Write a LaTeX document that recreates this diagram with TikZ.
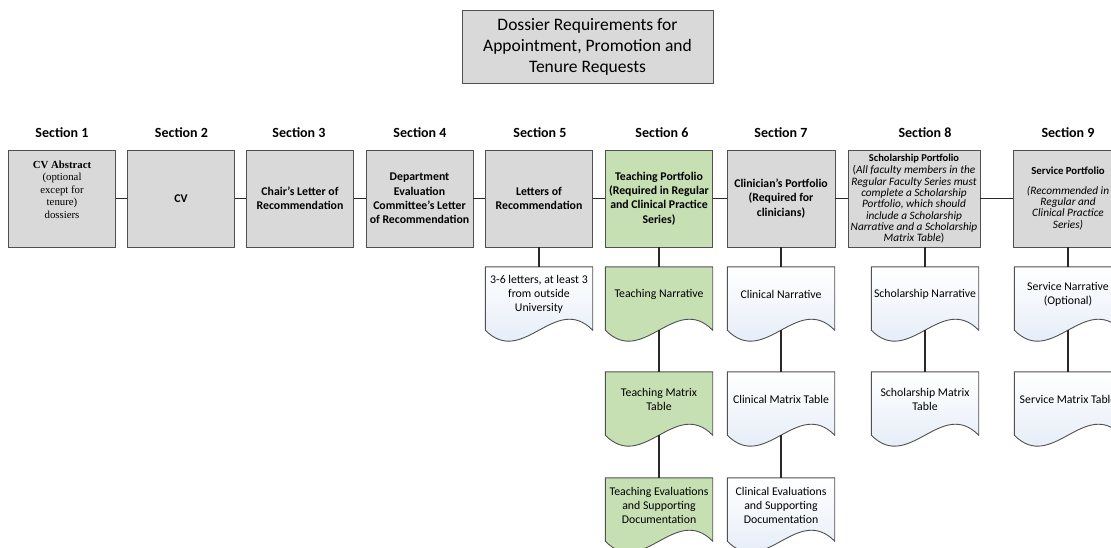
\documentclass[tikz,border=0pt]{standalone}
\usepackage{fontspec}
\setmainfont{Carlito}
\newfontfamily\tnrfont{Liberation Serif}
\usetikzlibrary{calc,backgrounds}

\definecolor{boxgrey}{RGB}{217,217,217}
\definecolor{tgreen}{RGB}{198,224,180}
\definecolor{boxline}{RGB}{80,80,80}
\definecolor{linkline}{RGB}{40,40,40}
\definecolor{docblue}{RGB}{222,231,245}

\tikzset{
	secbox/.style={draw=boxline, fill=boxgrey, line width=0.9pt, minimum width=107pt, minimum height=97pt, inner sep=1pt, align=center, font=\fontsize{11.8}{14.2}\selectfont\bfseries},
	seclabel/.style={font=\fontsize{14}{16}\selectfont\bfseries},
	docbox/.style={minimum width=107pt, minimum height=55pt, inner sep=1pt, align=center, font=\fontsize{11.8}{14.3}\selectfont},
	link/.style={draw=linkline, line width=1.4pt},
	docline/.style={draw=boxline, line width=0.9pt}
}

\begin{document}
\begin{tikzpicture}[x=1pt, y=-1pt]
	\useasboundingbox (0,0) rectangle (1111,548);

	\node[secbox, minimum width=251pt, minimum height=73pt, font=\fontsize{17.5}{21}\selectfont] (title) at (587.5,46.5) {Dossier Requirements for\\Appointment, Promotion and\\Tenure Requests};

	\node[seclabel] (l1) at (62,133) {Section 1};
	\node[seclabel] (l2) at (181.5,133) {Section 2};
	\node[seclabel] (l3) at (299,133) {Section 3};
	\node[seclabel] (l4) at (420,133) {Section 4};
	\node[seclabel] (l5) at (540,133) {Section 5};
	\node[seclabel] (l6) at (662,133) {Section 6};
	\node[seclabel] (l7) at (781,133) {Section 7};
	\node[seclabel] (l8) at (925,133) {Section 8};
	\node[seclabel] (l9) at (1068,133) {Section 9};

	\node[secbox, font=\tnrfont\fontsize{10.8}{12.4}\selectfont] (s1) at (62,198.5) {\textbf{CV Abstract}\\(optional\\except for\\tenure)\\dossiers\rule[-18pt]{0pt}{18pt}};
	\node[secbox] (s2) at (181,198.5) {CV};
	\node[secbox] (s3) at (300,198.5) {Chair’s Letter of\\Recommendation};
	\node[secbox] (s4) at (419.5,198.5) {Department\\Evaluation\\Committee’s Letter\\of Recommendation};
	\node[secbox] (s5) at (539,198.5) {Letters of\\Recommendation};
	\node[secbox, fill=tgreen] (s6) at (659,198.5) {Teaching Portfolio\\(Required in Regular\\and Clinical Practice\\Series)};
	\node[secbox, minimum width=108pt] (s7) at (781,198.5) {Clinician’s Portfolio\\(Required for\\clinicians)};
	\node[secbox, minimum width=132pt, font=\fontsize{11.3}{11.3}\selectfont] (s8) at (914,198.5) {{\fontsize{10.5}{11}\selectfont\textbf{Scholarship Portfolio}}\\[1.7pt](\textit{All faculty members in the}\\\textit{Regular Faculty Series must}\\\textit{complete a Scholarship}\\\textit{Portfolio, which should}\\\textit{include a Scholarship}\\\textit{Narrative and a Scholarship}\\\textit{Matrix Table})};
	\node[secbox, minimum width=110pt, font=\fontsize{11.3}{11.3}\selectfont] (s9) at (1068,198.5) {{\fontsize{10.8}{11}\selectfont\textbf{Service Portfolio}}\\[8pt]\textit{(Recommended in}\\\textit{Regular and}\\\textit{Clinical Practice}\\\textit{Series)}};

	\node[docbox] (d51) at (539,294.5) {3-6 letters, at least 3\\from outside\\University};
	\node[docbox] (d61) at (659,294.5) {Teaching Narrative};
	\node[docbox] (d62) at (659,399.5) {Teaching Matrix\\Table};
	\node[docbox] (d63) at (659,505.5) {Teaching Evaluations\\and Supporting\\Documentation};
	\node[docbox] (d71) at (781,294.5) {Clinical Narrative};
	\node[docbox] (d72) at (781,399.5) {Clinical Matrix Table};
	\node[docbox] (d73) at (781,505.5) {Clinical Evaluations\\and Supporting\\Documentation};
	\node[docbox] (d81) at (925,294.5) {Scholarship Narrative};
	\node[docbox] (d82) at (925,399.5) {Scholarship Matrix\\Table};
	\node[docbox] (d91) at (1068,294.5) {Service Narrative\\(Optional)};
	\node[docbox] (d92) at (1068,399.5) {Service Matrix Table};

	\begin{scope}[on background layer]
		\foreach \d in {d61,d62,d63}
			\draw[docline, fill=tgreen] (\d.north west) -- (\d.north east) -- ($(\d.south east)+(0,8)$) .. controls ($(\d.south east)+(-37.5,-30)$) and ($(\d.south west)+(37.5,46)$) .. ($(\d.south west)+(0,8)$) -- cycle;
		\foreach \d in {d51,d71,d72,d73,d81,d82,d91,d92}
			\draw[docline, top color=white, bottom color=docblue] (\d.north west) -- (\d.north east) -- ($(\d.south east)+(0,8)$) .. controls ($(\d.south east)+(-37.5,-30)$) and ($(\d.south west)+(37.5,46)$) .. ($(\d.south west)+(0,8)$) -- cycle;
	\end{scope}

	\draw[link] (s1) -- (s2);
	\draw[link] (s2) -- (s3);
	\draw[link] (s3) -- (s4);
	\draw[link] (s4) -- (s5);
	\draw[link] (s5) -- (s6);
	\draw[link] (s6) -- (s7);
	\draw[link] (s7) -- (s8);
	\draw[link] (s8) -- (s9);

	\draw[link] (s5) -- (d51);
	\draw[link] (s6) -- (d61);
	\draw[link, shorten <=8pt] (d61) -- (d62);
	\draw[link, shorten <=8pt] (d62) -- (d63);
	\draw[link] (s7) -- (d71);
	\draw[link, shorten <=8pt] (d71) -- (d72);
	\draw[link, shorten <=8pt] (d72) -- (d73);
	\draw[link] (d81.north |- s8.south) -- (d81);
	\draw[link, shorten <=8pt] (d81) -- (d82);
	\draw[link] (s9) -- (d91);
	\draw[link, shorten <=8pt] (d91) -- (d92);
\end{tikzpicture}
\end{document}
